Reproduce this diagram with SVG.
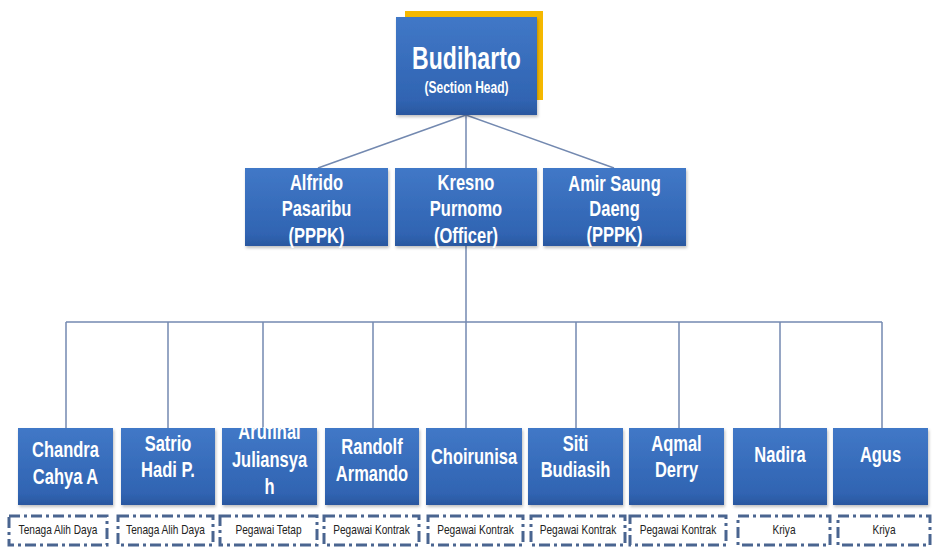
<svg xmlns="http://www.w3.org/2000/svg" width="932" height="547" viewBox="0 0 932 547">
<defs>
<linearGradient id="bg" x1="0" y1="0" x2="0" y2="1">
<stop offset="0" stop-color="#4178c7"/>
<stop offset="0.85" stop-color="#3064b2"/>
<stop offset="1" stop-color="#2a579f"/>
</linearGradient>
<filter id="sh" x="-10%" y="-10%" width="130%" height="130%">
<feDropShadow dx="1" dy="2" stdDeviation="1.5" flood-color="#000" flood-opacity="0.25"/>
</filter>
</defs>
<style>
.box{fill:url(#bg);filter:url(#sh)}
.t{font-family:"Liberation Sans",Arial,sans-serif;font-weight:bold;fill:#fff;text-anchor:middle}
.m{font-size:22px}
.lab{font-family:"Liberation Sans",Arial,sans-serif;font-size:13px;fill:#222;text-anchor:middle}
.con{stroke:#7389b0;stroke-width:1.5;fill:none}
.fr{fill:none;stroke:#4a6590;stroke-width:3;stroke-dasharray:11 4 3 4}
</style>
<rect width="932" height="547" fill="#fff"/>
<g id="connectors">
<line class="con" x1="466" y1="115" x2="318" y2="168"/>
<line class="con" x1="466" y1="115" x2="614" y2="168"/>
<line class="con" x1="466" y1="115" x2="466" y2="168"/>
<line class="con" x1="466" y1="246" x2="466" y2="428"/>
<line class="con" x1="66" y1="322" x2="882" y2="322"/>
<line class="con" x1="66" y1="322" x2="66" y2="428"/>
<line class="con" x1="168" y1="322" x2="168" y2="428"/>
<line class="con" x1="263" y1="322" x2="263" y2="428"/>
<line class="con" x1="373" y1="322" x2="373" y2="428"/>
<line class="con" x1="576" y1="322" x2="576" y2="428"/>
<line class="con" x1="679" y1="322" x2="679" y2="428"/>
<line class="con" x1="780" y1="322" x2="780" y2="428"/>
<line class="con" x1="882" y1="322" x2="882" y2="428"/>
</g>
<g id="budiharto">
<rect x="405" y="11" width="138" height="89" fill="#f5b800"/>
<rect class="box" x="396" y="17" width="141" height="98"/>
<text class="t" font-size="32" transform="translate(466.5 69) scale(0.72 1)">Budiharto</text>
<text class="t" font-size="16" transform="translate(466.5 93) scale(0.75 1)">(Section Head)</text>
</g>
<g id="alfrido">
<rect class="box" x="245" y="168" width="143" height="78"/>
<text class="t m" transform="translate(316.5 190) scale(0.75 1)"><tspan x="0">Alfrido</tspan><tspan x="0" dy="26.5">Pasaribu</tspan><tspan x="0" dy="26.5">(PPPK)</tspan></text>
</g>
<g id="kresno">
<rect class="box" x="395" y="168" width="142" height="78"/>
<text class="t m" transform="translate(466 190) scale(0.75 1)"><tspan x="0">Kresno</tspan><tspan x="0" dy="26.5">Purnomo</tspan><tspan x="0" dy="26.5">(Officer)</tspan></text>
</g>
<g id="amir">
<rect class="box" x="543" y="168" width="143" height="78"/>
<text class="t m" transform="translate(614.5 191) scale(0.75 1)"><tspan x="0">Amir Saung</tspan><tspan x="0" dy="25.5">Daeng</tspan><tspan x="0" dy="25.5">(PPPK)</tspan></text>
</g>
<g id="chandra">
<rect class="box" x="18" y="428" width="95" height="77"/>
<text class="t m" transform="translate(65.5 457) scale(0.75 1)"><tspan x="0">Chandra</tspan><tspan x="0" dy="27">Cahya A</tspan></text>
<rect class="fr" x="9" y="516" width="98" height="29"/>
<text class="lab" transform="translate(58 534) scale(0.78 1)">Tenaga Alih Daya</text>
</g>
<g id="satrio">
<rect class="box" x="121" y="428" width="94" height="77"/>
<text class="t m" transform="translate(168 451) scale(0.75 1)"><tspan x="0">Satrio</tspan><tspan x="0" dy="26">Hadi P.</tspan></text>
<rect class="fr" x="118" y="516" width="95" height="29"/>
<text class="lab" transform="translate(165.5 534) scale(0.78 1)">Tenaga Alih Daya</text>
</g>
<g id="arufinai">
<rect class="box" x="222" y="428" width="95" height="77"/>
<text class="t m" transform="translate(269.5 439) scale(0.75 1)"><tspan x="0">Arufinai</tspan><tspan x="0" dy="28">Juliansya</tspan><tspan x="0" dy="27">h</tspan></text>
<rect class="fr" x="220" y="516" width="97" height="29"/>
<text class="lab" transform="translate(268.5 534) scale(0.78 1)">Pegawai Tetap</text>
</g>
<g id="randolf">
<rect class="box" x="325" y="428" width="94" height="77"/>
<text class="t m" transform="translate(372 454) scale(0.75 1)"><tspan x="0">Randolf</tspan><tspan x="0" dy="27">Armando</tspan></text>
<rect class="fr" x="324" y="516" width="95" height="29"/>
<text class="lab" transform="translate(371.5 534) scale(0.78 1)">Pegawai Kontrak</text>
</g>
<g id="choirunisa">
<rect class="box" x="426" y="428" width="96" height="77"/>
<text class="t m" transform="translate(474 464) scale(0.75 1)">Choirunisa</text>
<rect class="fr" x="428" y="516" width="95" height="29"/>
<text class="lab" transform="translate(475.5 534) scale(0.78 1)">Pegawai Kontrak</text>
</g>
<g id="siti">
<rect class="box" x="528" y="428" width="95" height="77"/>
<text class="t m" transform="translate(575.5 451) scale(0.75 1)"><tspan x="0">Siti</tspan><tspan x="0" dy="26">Budiasih</tspan></text>
<rect class="fr" x="531" y="516" width="94" height="29"/>
<text class="lab" transform="translate(578 534) scale(0.78 1)">Pegawai Kontrak</text>
</g>
<g id="aqmal">
<rect class="box" x="629" y="428" width="95" height="77"/>
<text class="t m" transform="translate(676.5 451) scale(0.75 1)"><tspan x="0">Aqmal</tspan><tspan x="0" dy="26">Derry</tspan></text>
<rect class="fr" x="630" y="516" width="96" height="29"/>
<text class="lab" transform="translate(678 534) scale(0.78 1)">Pegawai Kontrak</text>
</g>
<g id="nadira">
<rect class="box" x="733" y="428" width="94" height="77"/>
<text class="t m" transform="translate(780 462) scale(0.75 1)">Nadira</text>
<rect class="fr" x="738" y="516" width="92" height="29"/>
<text class="lab" transform="translate(784 534) scale(0.78 1)">Kriya</text>
</g>
<g id="agus">
<rect class="box" x="833" y="428" width="95" height="77"/>
<text class="t m" transform="translate(880.5 462) scale(0.75 1)">Agus</text>
<rect class="fr" x="838" y="516" width="92" height="29"/>
<text class="lab" transform="translate(884 534) scale(0.78 1)">Kriya</text>
</g>
</svg>
